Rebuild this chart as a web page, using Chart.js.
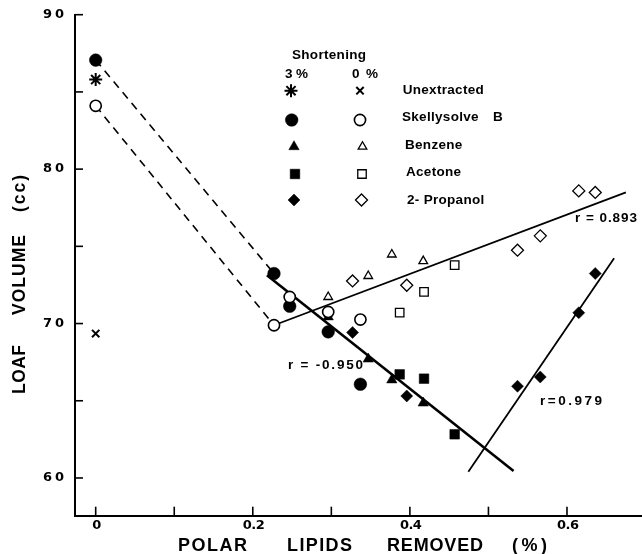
<!DOCTYPE html>
<html><head><meta charset="utf-8">
<script src="https://cdn.jsdelivr.net/npm/chart.js@4/dist/chart.umd.min.js"></script>
<style>html,body{margin:0;padding:0;background:#fff;}canvas{display:block;}</style>
</head><body>
<canvas id="c" width="642" height="554"></canvas>
<script>
// ---- axis ticks ----
const yTicks = [60, 70, 80, 90];
const yTickLabels = ['60', '70', '80', '90'];
const yMinor = [65, 75, 85];
const xTicks = [0, 0.2, 0.4, 0.6];
const xTickLabels = ['0', '0.2', '0.4', '0.6'];
const xMinor = [0.1, 0.3, 0.5];

// ---- legend ----
const legendNames = ['Unextracted', 'Skellysolve B', 'Benzene', 'Acetone', '2- Propanol'];
const legendTitle = 'Shortening';
const legendCols = ['3%', '0%'];

// ---- data: polar lipids removed (%) vs loaf volume (cc) ----
const unextX = [0];
const unext3Y = [85.8];
const unext0Y = [69.35];
const skellyX = [0, 0.227, 0.247, 0.296, 0.337];
const skelly3Y = [87.06, 73.24, 71.12, 69.46, 66.07];
const skelly0Y = [84.1, 69.89, 71.72, 70.75, 70.26];
const benzX = [0.296, 0.347, 0.377, 0.417];
const benz3Y = [70.43, 67.7, 66.35, 64.85];
const benz0Y = [71.72, 73.08, 74.47, 74.04];
const acetX = [0.387, 0.418, 0.457];
const acet3Y = [66.71, 66.43, 62.83];
const acet0Y = [70.71, 72.05, 73.78];
const propX = [0.327, 0.396, 0.537, 0.566, 0.615, 0.636];
const prop3Y = [69.42, 65.31, 65.94, 66.54, 70.7, 73.24];
const prop0Y = [72.76, 72.48, 74.75, 75.68, 78.59, 78.49];

// ---- regression / connecting lines (end points) ----
const dash3X = [0, 0.227], dash3Y = [87.06, 73.24];
const dash0X = [0, 0.227], dash0Y = [84.1, 69.89];
const fitNegX = [0.218, 0.532], fitNegY = [73.13, 60.45];      // r = -0.950
const fitUpX = [0.227, 0.675], fitUpY = [69.89, 78.49];        // r = 0.893
const fitSteepX = [0.4744, 0.660], fitSteepY = [60.40, 74.23]; // r = 0.979
const rLabels = ['r = -0.950', 'r=0.979', 'r = 0.893'];

function pts(xs, ys) { return xs.map((x, i) => ({ x: x, y: ys[i] })); }

const FONT = '"Liberation Sans", Arial, sans-serif';
const NFONT = '"DejaVu Sans", "Liberation Sans", sans-serif';

function lineDs(xs, ys, width, dash) {
  return { data: pts(xs, ys), showLine: true, pointRadius: 0, borderColor: '#000',
    borderWidth: width, borderDash: dash || [], fill: false, order: 3, tension: 0 };
}
function markDs(xs, ys, style, r, filled, bw, order) {
  return { data: pts(xs, ys), showLine: false, pointStyle: style, pointRadius: r,
    pointBackgroundColor: filled ? '#000' : '#fff', pointBorderColor: '#000',
    pointBorderWidth: bw, order: order };
}

const ds = [
  lineDs(dash3X, dash3Y, 1.6, [8, 6]),
  lineDs(dash0X, dash0Y, 1.6, [8, 6]),
  lineDs(fitNegX, fitNegY, 2.6),
  lineDs(fitUpX, fitUpY, 1.8),
  lineDs(fitSteepX, fitSteepY, 1.8),
  markDs(unextX, unext3Y, 'star', 6.5, true, 2, 2),
  markDs(unextX, unext0Y, 'crossRot', 5.2, true, 2, 2),
  markDs(skellyX, skelly3Y, 'circle', 6.3, true, 0.5, 2),
  markDs(benzX, benz3Y, 'triangle', 6, true, 0.5, 2),
  markDs(acetX, acet3Y, 'rect', 6.8, true, 0.5, 2),
  markDs(propX, prop3Y, 'rectRot', 6, true, 0.5, 2),
  markDs(skellyX, skelly0Y, 'circle', 5.6, false, 1.6, 1),
  markDs(benzX, benz0Y, 'triangle', 5, false, 1.3, 1),
  markDs(acetX, acet0Y, 'rect', 6, false, 1.3, 1),
  markDs(propX, prop0Y, 'rectRot', 6, false, 1.3, 1)
];

function spaced(ctx, text, left, cy, width, font) {
  ctx.save();
  ctx.font = font;
  ctx.letterSpacing = '0px';
  const w = ctx.measureText(text).width;
  const n = [...text].length;
  const ls = (n > 1 && width) ? (width - w) / (n - 1) : 0;
  ctx.letterSpacing = ls + 'px';
  ctx.textAlign = 'left';
  ctx.textBaseline = 'middle';
  ctx.fillText(text, left, cy);
  ctx.restore();
}

function drawMarker(ctx, d, x, y) {
  ctx.save();
  ctx.fillStyle = d.pointBackgroundColor;
  ctx.strokeStyle = d.pointBorderColor;
  ctx.lineWidth = d.pointBorderWidth;
  Chart.helpers.drawPoint(ctx, { pointStyle: d.pointStyle, radius: d.pointRadius,
    borderWidth: d.pointBorderWidth, rotation: 0 }, x, y);
  ctx.restore();
}

const overlay = {
  id: 'overlay',
  afterDraw(chart) {
    const ctx = chart.ctx, xs = chart.scales.x, ys = chart.scales.y, a = chart.chartArea;
    ctx.save();
    ctx.strokeStyle = '#000'; ctx.fillStyle = '#000'; ctx.lineWidth = 1.6;
    yTicks.concat(yMinor).forEach(v => {
      const p = ys.getPixelForValue(v);
      ctx.beginPath(); ctx.moveTo(a.left, p); ctx.lineTo(a.left + 8, p); ctx.stroke();
    });
    xTicks.concat(xMinor).forEach(v => {
      const p = xs.getPixelForValue(v);
      ctx.beginPath(); ctx.moveTo(p, a.bottom); ctx.lineTo(p, a.bottom - 9); ctx.stroke();
    });
    // y tick labels
    yTicks.forEach((v, i) => {
      spaced(ctx, yTickLabels[i], 43, ys.getPixelForValue(v), 21, 'bold 13px ' + NFONT);
    });
    // x tick labels
    const tf = 'bold 13px ' + NFONT;
    xTicks.forEach((v, i) => {
      const c = xs.getPixelForValue(v) + 1;
      const t = xTickLabels[i];
      const w = t.length > 1 ? 22 : 0;
      ctx.save(); ctx.font = tf;
      const nat = w || ctx.measureText(t).width; ctx.restore();
      spaced(ctx, t, c - nat / 2, a.bottom + 10, w, tf);
    });
    // x title
    const xt = 'bold 18px ' + FONT;
    spaced(ctx, 'POLAR', 178, 546, 69, xt);
    spaced(ctx, 'LIPIDS', 287, 546, 65, xt);
    spaced(ctx, 'REMOVED', 387, 546, 96, xt);
    spaced(ctx, '(%)', 512, 546, 35, xt);
    // y title (rotated)
    ctx.save();
    ctx.translate(20, 0);
    ctx.rotate(-Math.PI / 2);
    const yt = 'bold 17.5px ' + FONT;
    spaced(ctx, 'LOAF', -394, 0, 49, yt);
    spaced(ctx, 'VOLUME', -315, 0, 80, yt);
    spaced(ctx, '(cc)', -212, 0, 37, yt);
    ctx.restore();
    // legend
    const lf = 'bold 13.5px ' + FONT;
    spaced(ctx, legendTitle, 292, 55, 74, lf);
    spaced(ctx, legendCols[0], 285, 74, 23, lf);
    spaced(ctx, legendCols[1], 352, 74, 26, lf);
    const rowsY = [90.7, 120, 146.7, 174, 200];
    const textY = [90.7, 117, 145.5, 172, 200.5];
    const textX = [402.7, 402, 405, 406, 407];
    const c3 = [5, 7, 8, 9, 10], c0 = [6, 11, 12, 13, 14];
    const mx3 = [291, 291.7, 294, 295, 294], mx0 = [360, 360, 362.5, 362, 361.5];
    legendNames.forEach((n, i) => {
      drawMarker(ctx, chart.data.datasets[c3[i]], mx3[i], rowsY[i]);
      drawMarker(ctx, chart.data.datasets[c0[i]], mx0[i], rowsY[i]);
      ctx.save(); ctx.font = lf; ctx.fillStyle = '#000';
      ctx.textBaseline = 'middle'; ctx.letterSpacing = '0.3px';
      if (i === 1) ctx.wordSpacing = '10px';
      ctx.fillText(n, textX[i], textY[i]);
      ctx.restore();
    });
    // r annotations
    const rf = 'bold 13.5px ' + FONT;
    spaced(ctx, rLabels[0], 288, 365, 75, rf);
    spaced(ctx, rLabels[1], 540, 401.7, 62, rf);
    spaced(ctx, rLabels[2], 575, 218.3, 62, rf);
    ctx.restore();
  }
};

new Chart(document.getElementById('c'), {
  type: 'scatter',
  data: { datasets: ds },
  options: {
    responsive: false,
    animation: false,
    events: [],
    layout: { autoPadding: false, padding: { left: 75, top: 14.7, right: 0, bottom: 38.3 } },
    plugins: { legend: { display: false }, tooltip: { enabled: false }, title: { display: false } },
    scales: {
      x: { type: 'linear', min: -0.02635, max: 0.6955,
        grid: { display: false, drawTicks: false }, ticks: { display: false },
        border: { display: true, color: '#000', width: 2 } },
      y: { type: 'linear', min: 57.557, max: 90,
        grid: { display: false, drawTicks: false }, ticks: { display: false },
        border: { display: true, color: '#000', width: 2 } }
    },
    elements: { point: { hitRadius: 0 } },
    clip: false
  },
  plugins: [overlay]
});
</script>
</body></html>
